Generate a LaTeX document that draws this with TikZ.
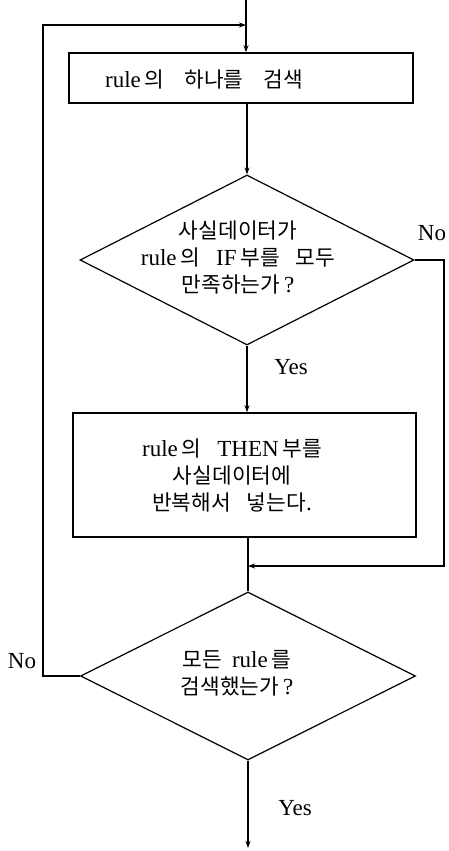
\documentclass[tikz,border=0pt]{standalone}
\usepackage{fontspec}
\setmainfont{Liberation Serif}
\newfontfamily\kr[Scale=0.93]{Noto Sans CJK KR}
\usetikzlibrary{arrows.meta,shapes.geometric}
\begin{document}
\begin{tikzpicture}[x=1pt,y=-1pt,
  line width=1.2pt,
  arr/.style={-{Stealth[length=7pt,width=5pt]}},
  boxs/.style={draw,line width=1.6pt,rectangle,inner sep=0pt},
  dia/.style={draw,line width=1.2pt,diamond,inner sep=0pt},
  txt/.style={align=center,inner sep=0pt,font=\fontsize{23}{27}\selectfont},
  lbl/.style={inner sep=0pt,font=\fontsize{23}{25}\selectfont}]
\useasboundingbox (0,0) rectangle (448,851);
% boxes
\node[boxs,minimum width=344pt,minimum height=50pt] (b1) at (241,78) {};
\node[txt] (t1) at (204,79) {rule\,{\kr 의}\hspace{20pt}{\kr 하나를}\hspace{20pt}{\kr 검색}};
\node[boxs,minimum width=343pt,minimum height=124pt] (b2) at (244.5,475) {};
\node[txt] (t2) at (232,475) {rule\,{\kr 의}\hspace{16pt}THEN\,{\kr 부를}\\{\kr 사실데이터에}\\{\kr 반복해서}\hspace{16pt}{\kr 넣는다}.};
% diamonds
\node[dia,minimum width=334pt,minimum height=170pt] (d1) at (247,260) {};
\node[txt] (t3) at (238,257) {{\kr 사실데이터가}\\rule\,{\kr 의}\hspace{16pt}IF\,{\kr 부를}\hspace{16pt}{\kr 모두}\\{\kr 만족하는가}\,?};
\node[dia,minimum width=335pt,minimum height=168pt] (d2) at (248,676) {};
\node[txt] (t4) at (237,673) {{\kr 모든}\hspace{10pt}rule\,{\kr 를}\\{\kr 검색했는가}\,?};
% coordinates
\coordinate (top) at (246,0);
\coordinate (lt) at (43,25);
\coordinate (rt) at (444,566);
\coordinate (end) at (249,848);
% connectors
\draw[arr] (top) -- (top |- b1.north);
\draw[arr] (d2.west) -- (d2.west -| lt) -- (lt) -- (lt -| top);
\draw[arr] (d1.north |- b1.south) -- (d1.north);
\draw[arr] (d1.south) -- (d1.south |- b2.north);
\draw (d2.north |- b2.south) -- (d2.north);
\draw[arr] (d1.east) -- (d1.east -| rt) -- (rt) -- (rt -| d2.north);
\draw[arr] (d2.south) -- (d2.south |- end);
% labels
\node[lbl] (no1) at (432,233) {No};
\node[lbl] (yes1) at (291,367) {Yes};
\node[lbl] (no2) at (22,661) {No};
\node[lbl] (yes2) at (295,808) {Yes};
\end{tikzpicture}
\end{document}
